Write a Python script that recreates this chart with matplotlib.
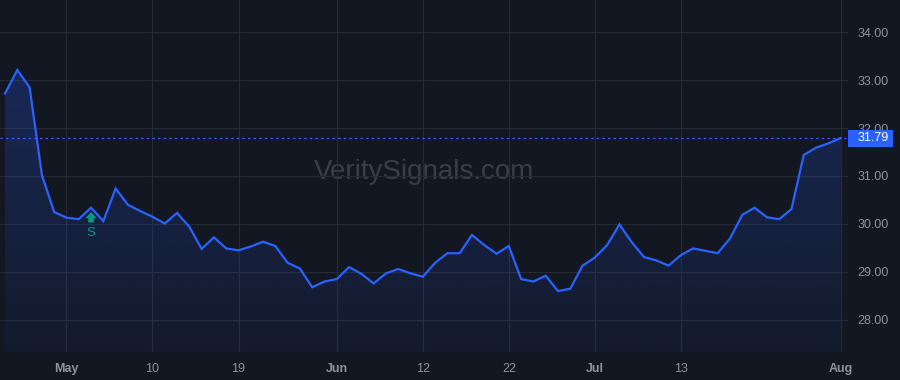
import numpy as np
import matplotlib
matplotlib.use("Agg")
import matplotlib.pyplot as plt
import matplotlib.transforms as mtransforms
from matplotlib.patches import Rectangle

# daily closes
closes = [32.72, 33.21, 32.85, 31.02, 30.25, 30.13, 30.10, 30.34, 30.06, 30.74,
          30.40, 30.27, 30.15, 30.01, 30.23, 29.94, 29.48, 29.72, 29.49, 29.45,
          29.53, 29.63, 29.54, 29.19, 29.07, 28.68, 28.80, 28.85, 29.10, 28.96,
          28.76, 28.97, 29.06, 28.97, 28.90, 29.19, 29.39, 29.39, 29.77, 29.56,
          29.38, 29.54, 28.85, 28.80, 28.92, 28.60, 28.65, 29.13, 29.30, 29.56,
          29.99, 29.62, 29.31, 29.24, 29.13, 29.35, 29.49, 29.44, 29.39, 29.70,
          30.19, 30.34, 30.14, 30.10, 30.31, 31.44, 31.59, 31.68, 31.79]
last_price = 31.79

date_tick_idx = [5, 12, 19, 27, 34, 41, 48, 55, 68]
date_tick_labels = ['May', '10', '19', 'Jun', '12', '22', 'Jul', '13', 'Aug']
month_labels = {'May', 'Jun', 'Jul', 'Aug'}
price_ticks = [28, 29, 30, 31, 32, 33, 34]

signal_idx = 7
signal_label = 'S'

BG = '#131722'
GRID = '#262a35'
LINE = '#2962FF'
TEXT = '#8f929b'
TEAL = '#089981'

plt.rcParams['font.family'] = ['Liberation Sans', 'DejaVu Sans']

fig = plt.figure(figsize=(9, 3.8), dpi=100, facecolor=BG)
ax = fig.add_axes([0, 28 / 380, 848 / 900, 352 / 380], facecolor=BG)

x = np.arange(len(closes))
y = np.array(closes)
ymin, ymax = 27.33, 34.67

# gradient area under the line
fill = ax.fill_between(x, y, ymin, color='none', lw=0)
grad = np.zeros((256, 1, 4))
grad[:, 0, :3] = matplotlib.colors.to_rgb(LINE)
grad[:, 0, 3] = np.linspace(0.05, 0.24, 256)
img = ax.imshow(grad, aspect='auto', origin='lower',
                extent=[x[0], x[-1], ymin, y.max()], zorder=1)
img.set_clip_path(fill.get_paths()[0], transform=ax.transData)

ax.plot(x, y, color=LINE, lw=1.6, zorder=3, solid_joinstyle='miter')

# last price dotted line + label
ax.axhline(last_price, color=LINE, lw=0.9, ls=(0, (2, 2.5)), zorder=2)
trans = mtransforms.blended_transform_factory(ax.transAxes, ax.transData)
h = 8.5 / 48
ax.add_patch(Rectangle((1.0, last_price - h), 45 / 848, 2 * h, transform=trans,
                       facecolor=LINE, edgecolor='none', clip_on=False, zorder=5))
ax.text(1.0 + 10 / 848, last_price, f'{last_price:.2f}', transform=trans,
        ha='left', va='center', color='white', fontsize=9, zorder=6)

# signal marker
ax.annotate('', xy=(signal_idx, closes[signal_idx] - 0.09),
            xytext=(signal_idx, closes[signal_idx] - 0.31),
            arrowprops=dict(arrowstyle='simple,head_width=0.8,head_length=0.45,tail_width=0.4',
                            color=TEAL, lw=0, shrinkA=0, shrinkB=0), zorder=4)
ax.text(signal_idx, closes[signal_idx] - 0.53, signal_label, color=TEAL,
        ha='center', va='center', fontsize=9.5, zorder=4)

# watermark
ax.text(0.5, 0.511, 'VeritySignals.com', transform=ax.transAxes, ha='center',
        va='center', fontsize=20, color='#3a3e49', zorder=0)

ax.set_xlim(-0.41, 68.6)
ax.set_ylim(ymin, ymax)

ax.set_xticks(date_tick_idx)
ax.set_xticklabels(date_tick_labels)
for lbl in ax.get_xticklabels():
    if lbl.get_text() in month_labels:
        lbl.set_fontweight('bold')
        lbl.set_color('#9598a1')
ax.set_yticks(price_ticks)
ax.set_yticklabels([f'{v:.2f}' for v in price_ticks])
ax.yaxis.tick_right()
ax.tick_params(axis='both', length=0, colors=TEXT, labelsize=9)
ax.tick_params(axis='x', pad=8)
ax.tick_params(axis='y', pad=7)

ax.grid(True, color=GRID, lw=0.8)
ax.set_axisbelow(True)
for s in ax.spines.values():
    s.set_visible(False)

fig.savefig('out.png', dpi=100, facecolor=BG)
